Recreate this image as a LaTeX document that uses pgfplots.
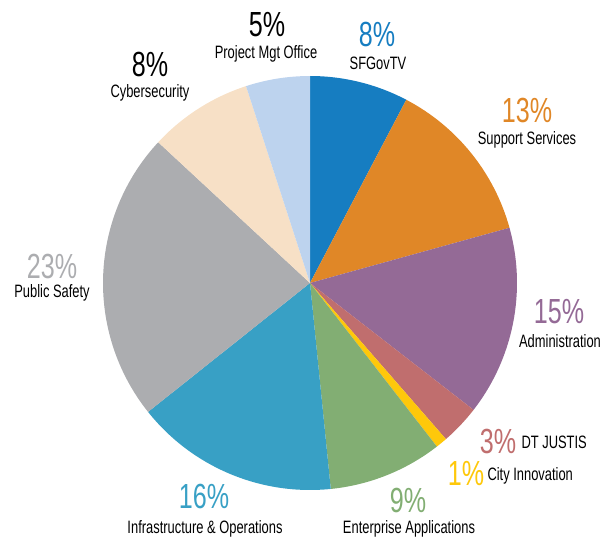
\documentclass[border=0pt]{standalone}
\usepackage{pgfplots}
\usepackage{pgfplotstable}
\pgfplotsset{compat=1.18}
\usepackage{fontspec}
\setmainfont[FakeStretch=0.72]{Liberation Sans}

\definecolor{cSF}{HTML}{167DC1}
\definecolor{cSup}{HTML}{E08727}
\definecolor{cAdm}{HTML}{946A96}
\definecolor{cDT}{HTML}{C06E6E}
\definecolor{cCity}{HTML}{FEC80B}
\definecolor{cEnt}{HTML}{82AE73}
\definecolor{cInf}{HTML}{38A0C5}
\definecolor{cPub}{HTML}{ACADB0}
\definecolor{cCyb}{HTML}{F7E0C6}
\definecolor{cPMO}{HTML}{BDD3EE}

% share of budget, clockwise from 12 o'clock
\pgfplotstableread[col sep=comma]{
label,value,color
SFGovTV,7.7,cSF
Support Services,13.0,cSup
Administration,14.8,cAdm
DT JUSTIS,3.1,cDT
City Innovation,0.9,cCity
Enterprise Applications,8.9,cEnt
Infrastructure & Operations,15.9,cInf
Public Safety,22.6,cPub
Cybersecurity,8.1,cCyb
Project Mgt Office,5.0,cPMO
}\piedata

\newcommand{\pct}{\fontsize{35}{35}\selectfont}
\newcommand{\lbl}{\fontsize{18}{18}\selectfont}

\begin{document}
\begin{tikzpicture}
\begin{axis}[x=1bp, y=1bp, xmin=0, xmax=610, ymin=0, ymax=540,
  hide axis, clip=false]
\addplot[draw=none] coordinates {(0,0) (610,540)};
\pgfplotstablegetrowsof{\piedata}
\pgfmathtruncatemacro{\N}{\pgfplotsretval-1}
\def\cum{0}
\pgfplotsforeachungrouped \i in {0,...,\N}{%
  \pgfplotstablegetelem{\i}{value}\of\piedata \let\v\pgfplotsretval
  \pgfplotstablegetelem{\i}{color}\of\piedata \let\c\pgfplotsretval
  \pgfmathsetmacro{\sa}{90-3.6*\cum}%
  \pgfmathsetmacro{\da}{3.6*\v}%
  \pgfmathsetmacro{\px}{310+207*cos(\sa)}%
  \pgfmathsetmacro{\py}{257+207*sin(\sa)}%
  \edef\slice{\noexpand\fill[\c] (axis cs:310,257) -- (axis cs:\px,\py)
    arc[start angle=\sa, delta angle=-\da, radius=207bp] -- cycle;}%
  \slice
  \pgfmathsetmacro{\cum}{\cum+\v}%
}
% labels
\node[anchor=base, text=black] at (axis cs:267,503) {\pct 5\%};
\node[anchor=base] at (axis cs:266,481) {\lbl Project Mgt Office};
\node[anchor=base, text=cSF] at (axis cs:377,493) {\pct 8\%};
\node[anchor=base] at (axis cs:378,470) {\lbl SFGovTV};
\node[anchor=base, text=black] at (axis cs:150,463) {\pct 8\%};
\node[anchor=base] at (axis cs:150,442) {\lbl Cybersecurity};
\node[anchor=base, text=cSup] at (axis cs:527,417) {\pct 13\%};
\node[anchor=base] at (axis cs:527,395) {\lbl Support Services};
\node[anchor=base, text=cPub] at (axis cs:52,262) {\pct 23\%};
\node[anchor=base] at (axis cs:52,243) {\lbl Public Safety};
\node[anchor=base, text=cAdm] at (axis cs:559,217) {\pct 15\%};
\node[anchor=base] at (axis cs:560,193) {\lbl Administration};
\node[anchor=base, text=cDT] at (axis cs:498,87) {\pct 3\%};
\node[anchor=base west] at (axis cs:518,92) {\lbl DT JUSTIS};
\node[anchor=base, text=cCity] at (axis cs:466,55) {\pct 1\%};
\node[anchor=base west] at (axis cs:484,60) {\lbl City Innovation};
\node[anchor=base, text=cInf] at (axis cs:204,32) {\pct 16\%};
\node[anchor=base] at (axis cs:205,7) {\lbl Infrastructure \& Operations};
\node[anchor=base, text=cEnt] at (axis cs:408,28) {\pct 9\%};
\node[anchor=base] at (axis cs:409,7) {\lbl Enterprise Applications};
\end{axis}
\end{tikzpicture}
\end{document}
